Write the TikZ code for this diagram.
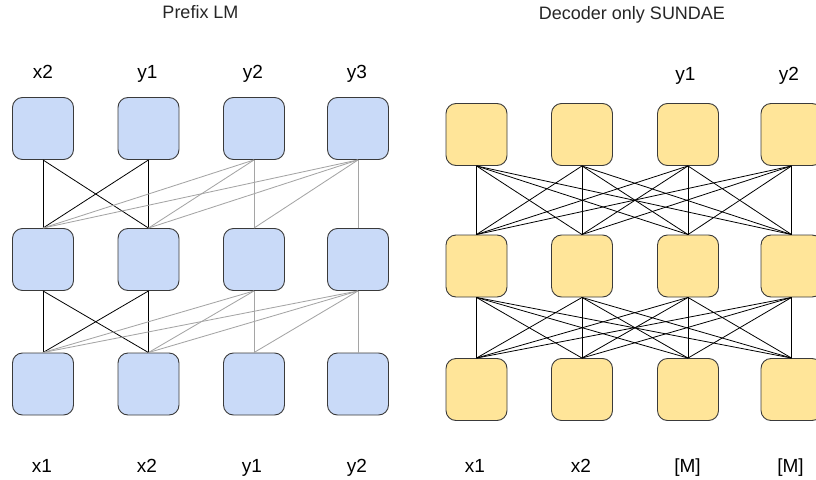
\documentclass[tikz,border=0pt]{standalone}
\usepackage{fontspec}
\setmainfont{Liberation Sans}
\definecolor{blueF}{HTML}{C9DAF8}
\definecolor{yellowF}{HTML}{FFE599}
\definecolor{edgeD}{HTML}{3A3A3A}
\definecolor{grayL}{HTML}{A5A5A5}
\tikzset{
  cell/.style={draw=edgeD, line width=0.9pt, rounded corners=10pt, minimum width=61pt, minimum height=62pt, inner sep=0pt},
  bcell/.style={cell, fill=blueF},
  ycell/.style={cell, fill=yellowF},
  lbl/.style={font=\fontsize{19}{22}\selectfont, text=black, inner sep=0pt, anchor=base},
  ttl/.style={font=\fontsize{18}{21}\selectfont, text=black!85, inner sep=0pt, anchor=base},
  blk/.style={draw=black, line width=0.8pt},
  gry/.style={draw=grayL, line width=0.85pt},
}
\begin{document}
\begin{tikzpicture}[x=1pt,y=-1pt]
\path[use as bounding box] (0,0) rectangle (816,479);
% titles
\node[ttl] (t1) at (200.5,18.5) {Prefix LM};
\node[ttl] (t2) at (632,19) {Decoder only SUNDAE};
% left grid
\foreach \c/\x in {1/43,2/148.5,3/254,4/358}{
  \node[bcell] (L1\c) at (\x,128.5) {};
  \node[bcell] (L2\c) at (\x,259.5) {};
  \node[bcell] (L3\c) at (\x,384) {};
}
% right grid
\foreach \c/\x in {1/476.5,2/582,3/688,4/791.5}{
  \node[ycell] (R1\c) at (\x,134.5) {};
  \node[ycell] (R2\c) at (\x,266) {};
  \node[ycell] (R3\c) at (\x,389.5) {};
}
% left connections
\foreach \u/\d in {1/2,2/3}{
  \foreach \a/\b in {1/1,1/2,2/1,2/2}{
    \draw[blk] (L\u\a.south) -- (L\d\b.north);
  }
  \foreach \a/\b in {3/1,3/2,3/3,4/1,4/2,4/3,4/4}{
    \draw[gry] (L\u\a.south) -- (L\d\b.north);
  }
}
% right connections
\foreach \u/\d in {1/2,2/3}{
  \foreach \a in {1,2,3,4}{
    \foreach \b in {1,2,3,4}{
      \draw[blk] (R\u\a.south) -- (R\d\b.north);
    }
  }
}
% top labels
\node[lbl] (lt1) at (43,78) {x2};
\node[lbl] (lt2) at (147.5,78) {y1};
\node[lbl] (lt3) at (253,78) {y2};
\node[lbl] (lt4) at (357,78) {y3};
\node[lbl] (rt3) at (685.5,80) {y1};
\node[lbl] (rt4) at (789,80) {y2};
% bottom labels
\node[lbl] (lb1) at (42,472.5) {x1};
\node[lbl] (lb2) at (147,472.5) {x2};
\node[lbl] (lb3) at (252,472.5) {y1};
\node[lbl] (lb4) at (357,472.5) {y2};
\node[lbl] (rb1) at (475,472.5) {x1};
\node[lbl] (rb2) at (581,472.5) {x2};
\node[lbl] (rb3) at (687.5,472.5) {[M]};
\node[lbl] (rb4) at (790.5,472.5) {[M]};
\end{tikzpicture}
\end{document}
